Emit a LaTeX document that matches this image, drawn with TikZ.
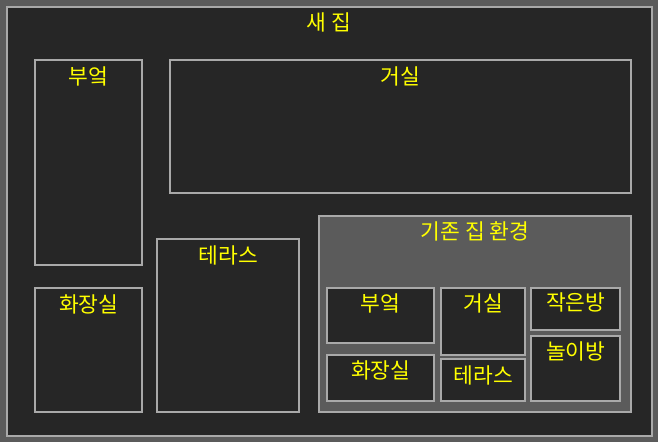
\documentclass[tikz,border=0pt]{standalone}
\usepackage{fontspec}
\setmainfont{Noto Sans CJK KR}
\usepackage{tikz}
\usetikzlibrary{positioning}
\definecolor{cBG}{HTML}{262626}
\definecolor{cMID}{HTML}{5B5B5B}
\definecolor{cLINE}{HTML}{A9A9A9}
\definecolor{cTXT}{HTML}{FFFF00}

\begin{document}
\begin{tikzpicture}[
  x=1pt, y=-1pt,
  room/.style={rectangle, draw=cLINE, line width=2pt, fill=cBG, anchor=north west, inner sep=0pt, xshift=-0.8pt, yshift=0.8pt},
  lbl/.style={text=cTXT, font=\fontsize{21.5}{24}\selectfont, inner sep=0pt, anchor=center}
]
\fill[cMID] (0,0) rectangle (658,442);
\useasboundingbox (0,0) rectangle (658,442);

% new house
\node[room, minimum width=645pt, minimum height=429pt] (house) at (6.3,6.3) {};
\node[lbl] (tHouse) at ([yshift=-17pt]house.north) {새 집};

\node[room, minimum width=107pt, minimum height=205pt] (kitchen) at (35,60) {};
\node[lbl] (tKitchen) at ([yshift=-17pt]kitchen.north) {부엌};
\node[room, minimum width=461pt, minimum height=133pt] (living) at (170,60) {};
\node[lbl] (tLiving) at ([yshift=-17pt]living.north) {거실};
\node[room, minimum width=107pt, minimum height=124pt] (bath) at (35,288) {};
\node[lbl] (tBath) at ([yshift=-17pt]bath.north) {화장실};
\node[room, minimum width=142pt, minimum height=173pt] (terrace) at (157,239) {};
\node[lbl] (tTerrace) at ([yshift=-17pt]terrace.north) {테라스};

% old house
\node[room, fill=cMID, minimum width=312pt, minimum height=196pt] (old) at (319,216) {};
\node[lbl] (tOld) at ([yshift=-16pt]old.north) {기존 집 환경};

\node[room, minimum width=107pt, minimum height=55pt] (oKitchen) at (327,288) {};
\node[lbl] (toKitchen) at ([yshift=-16pt]oKitchen.north) {부엌};
\node[room, minimum width=107pt, minimum height=46pt] (oBath) at (327,355) {};
\node[lbl] (toBath) at ([yshift=-16pt]oBath.north) {화장실};
\node[room, minimum width=84pt, minimum height=67pt] (oLiving) at (441,288) {};
\node[lbl] (toLiving) at ([yshift=-16pt]oLiving.north) {거실};
\node[room, minimum width=84pt, minimum height=42pt] (oTerrace) at (441,359) {};
\node[lbl] (toTerrace) at ([yshift=-17pt]oTerrace.north) {테라스};
\node[room, minimum width=89pt, minimum height=42pt] (oSmall) at (531,288) {};
\node[lbl] (toSmall) at ([yshift=-15pt]oSmall.north) {작은방};
\node[room, minimum width=89pt, minimum height=65pt] (oPlay) at (531,336) {};
\node[lbl] (toPlay) at ([yshift=-16pt]oPlay.north) {놀이방};
\end{tikzpicture}
\end{document}
